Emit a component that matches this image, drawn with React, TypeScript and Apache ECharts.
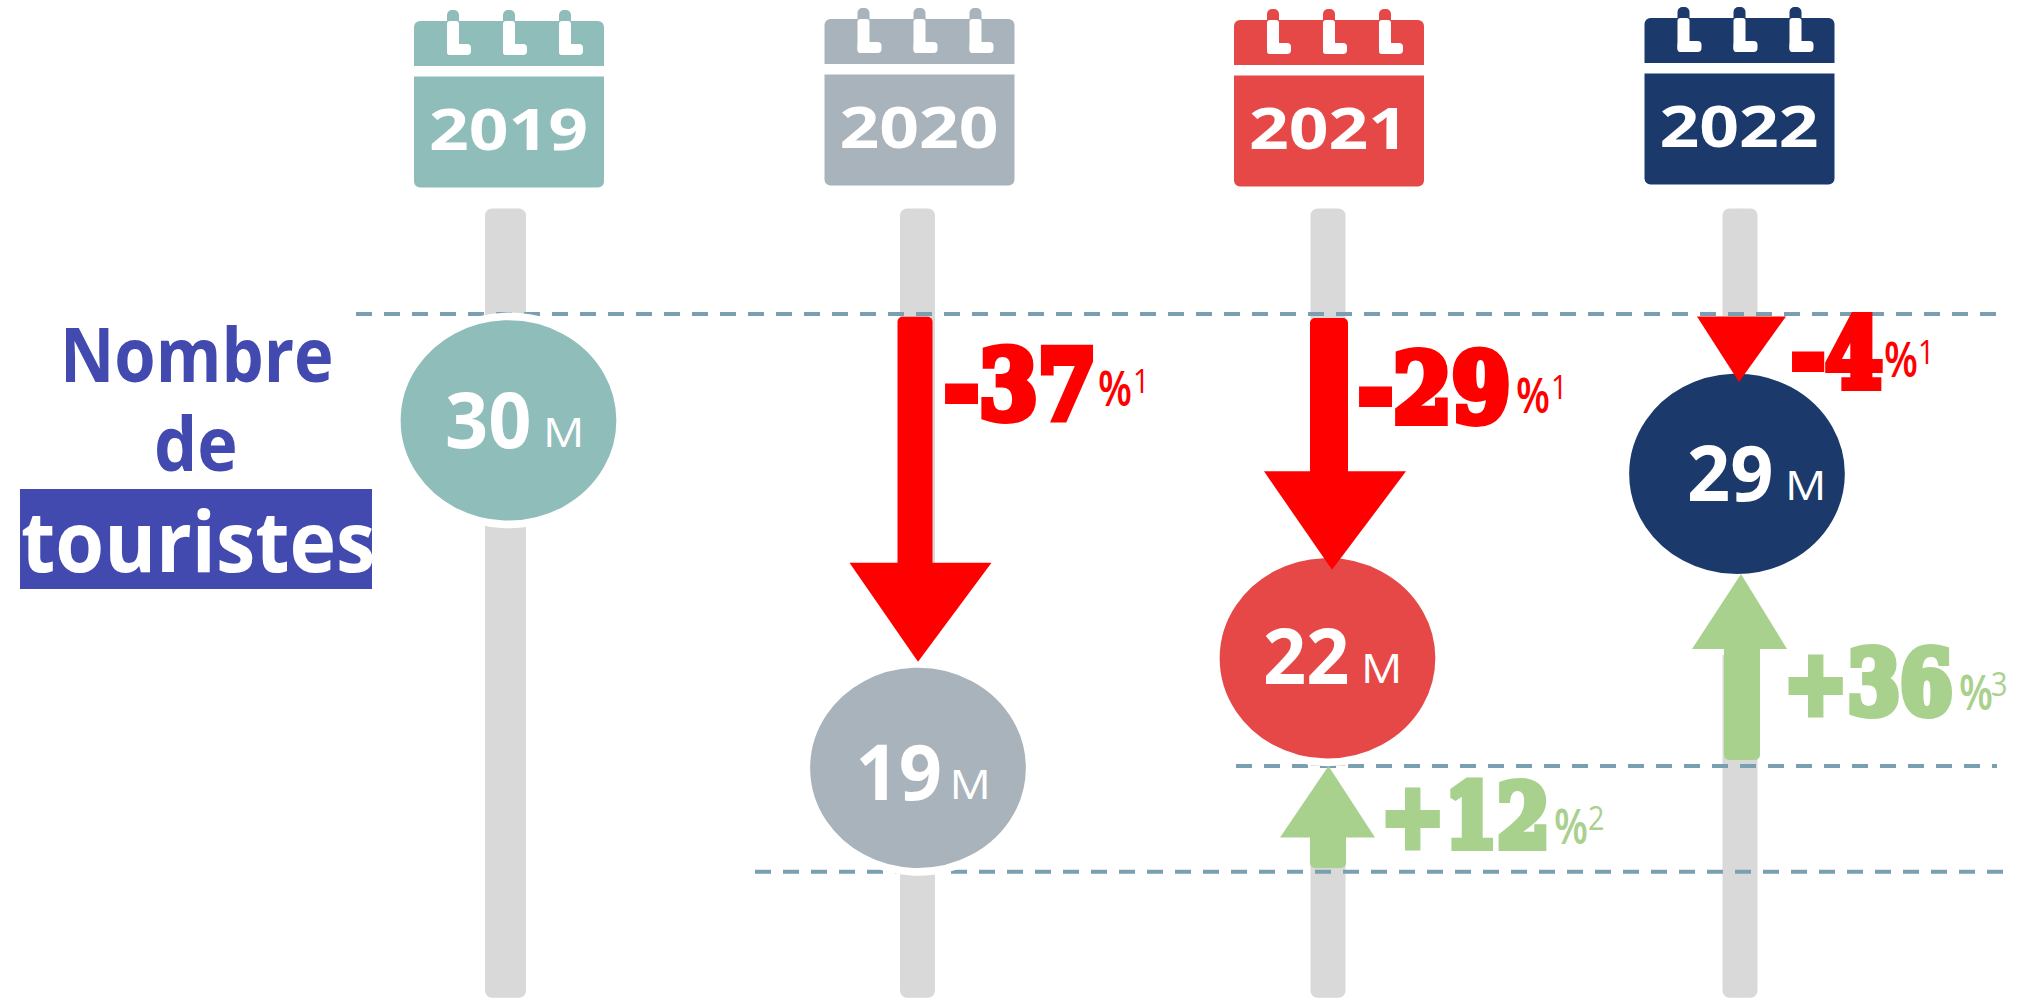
import React, { useEffect, useRef } from "react";
import * as echarts from "echarts";

// ---- data ----
const years = ["2019", "2020", "2021", "2022"];
const touristCounts = [30, 19, 22, 29];
const bubbleLevels = [30, 19, 22.47, 28.31];
const trackRange = [36.71, 11.72];
const guideLevels = [33.37, 19.06, 15.71];

const downYearIndex = [1, 2, 3];
const downChanges = [-37, -29, -4];
const downFromLevels = [33.28, 33.24, 33.29];
const downTipLevels = [22.36, 25.27, 31.22];
const downNotes = ["1", "1", "1"];

const upYearIndex = [2, 3];
const upChanges = [12, 36];
const upFromLevels = [15.83, 19.25];
const upTipLevels = [19.06, 25.14];
const upNotes = ["2", "3"];

const unitLabel = "M";
const titleLines = ["Nombre", "de", "touristes"];

// ---- styles ----
const yearColors = ["#8FBDBA", "#A9B3BB", "#E64848", "#1B3A6B"];
const trackColor = "#D9D9D9";
const guideColor = "#7A9FB0";
const downColor = "#FF0000";
const upColor = "#A9D18E";
const titleColor = "#434AAF";
const sansFont = "'Open Sans', sans-serif";
const fancyFont = "'DejaVu Serif', serif";

// ---- layout ----
const trackDx = [-3, -0.5, 0.5, 3];
const trackW = [41, 35, 35, 35];
const calDx = [0.5, 1.5, 1.5, 2.5];
const calDy = [0, -2, -1, -3];
const countDx = [-63.5, -62.5, -64.5, -50];
const unitDx = [34.5, 31.5, 33.5, 48];
const labelDy = [25.5, 30, 23.5, 25];
const downShape = [
  { shaft: -3, w: 35, head: [-68.5, 73.5], tip: 0, h: 99 },
  { shaft: 1.5, w: 38, head: [-63.5, 78.5], tip: 4.5, h: 98.5 },
  { shaft: 0, w: 0, head: [-40, 49], tip: 2, h: 65.5 },
];
const upShape = [
  { shaft: 0.5, w: 36, head: [-47.5, 47.5], tip: 1, h: 71.5 },
  { shaft: 5, w: 36, head: [-45, 50], tip: 4, h: 75 },
];
const guideSpans = [
  [356, 1996],
  [1236, 1997],
  [755, 2003],
];
const downText = [
  { x: 944, base: 420, sx: 0.88, px: 1098, pb: 405, nx: 1133, nb: 392 },
  { x: 1358, base: 423, sx: 0.88, px: 1516, pb: 412, nx: 1551, nb: 398 },
  { x: 1791, base: 388, sx: 0.86, px: 1884, pb: 376, nx: 1918, nb: 363 },
];
const upText = [
  { x: 1381, base: 848, sx: 0.86, px: 1554, pb: 843, nx: 1588, nb: 829 },
  { x: 1784, base: 715, sx: 0.86, px: 1959, pb: 709, nx: 1991, nb: 695 },
];

// text whose left edge is x and whose baseline is y
function label(
  text: string,
  x: number,
  base: number,
  size: number,
  fill: string,
  opts: any = {}
) {
  return {
    type: "text",
    x,
    y: base - size * 0.36,
    scaleX: opts.sx ?? 1,
    silent: true,
    style: {
      text,
      fontSize: size,
      fontFamily: opts.family ?? sansFont,
      fontWeight: opts.weight ?? 700,
      fill,
      stroke: opts.stroke,
      lineWidth: opts.lineWidth ?? 0,
      lineJoin: "round",
      textAlign: opts.align ?? "left",
      textVerticalAlign: "middle",
    },
  };
}

const customBase = {
  type: "custom",
  coordinateSystem: "cartesian2d",
  silent: true,
  clip: false,
};

function arrow(api: any, idx: number, from: number, tip: number, s: any, fill: string) {
  const [cx, tipY] = api.coord([idx, tip]);
  const [, fromY] = api.coord([idx, from]);
  const dir = tipY > fromY ? 1 : -1;
  const baseY = tipY - dir * s.h;
  const kids: any[] = [];
  if (s.w > 0) {
    // the shaft runs 8px into the head so that only its far end shows rounded corners
    kids.push({
      type: "rect",
      shape: {
        x: cx + s.shaft - s.w / 2,
        y: dir > 0 ? fromY : baseY - 8,
        width: s.w,
        height: Math.abs(baseY - fromY) + 8,
        r: 5,
      },
      style: { fill },
    });
  }
  kids.push({
    type: "polygon",
    shape: {
      points: [
        [cx + s.head[0], baseY],
        [cx + s.head[1], baseY],
        [cx + s.tip, tipY],
      ],
    },
    style: { fill },
  });
  return { type: "group", children: kids };
}

// white gap in the track between an arrow head and the bubble it points at
function headGap(api: any, idx: number, tip: number, s: any) {
  const [cx, tipY] = api.coord([idx, tip]);
  const baseY = tipY - s.dir * s.h;
  const top = Math.min(tipY, baseY);
  return {
    type: "rect",
    shape: { x: cx - 24, y: top, width: 48, height: s.h + 6 },
    style: { fill: "#fff" },
  };
}

function calendar(api: any, idx: number) {
  const [c] = api.coord([idx, 30]);
  const cx = c + calDx[idx];
  const dy = calDy[idx];
  const color = yearColors[idx];
  const kids: any[] = [
    { type: "rect", shape: { x: cx - 95, y: 21 + dy, width: 190, height: 45, r: [6, 6, 0, 0] }, style: { fill: color } },
    { type: "rect", shape: { x: cx - 95, y: 76.5 + dy, width: 190, height: 111, r: [0, 0, 6, 6] }, style: { fill: color } },
  ];
  [-56, 0, 56].forEach((o) => {
    kids.push({ type: "rect", shape: { x: cx + o - 6, y: 10 + dy, width: 12, height: 20, r: 5 }, style: { fill: color } });
    kids.push({ type: "rect", shape: { x: cx + o - 6, y: 21 + dy, width: 12, height: 34, r: 3 }, style: { fill: "#fff" } });
    kids.push({ type: "rect", shape: { x: cx + o - 6, y: 44 + dy, width: 24, height: 11, r: 4 }, style: { fill: "#fff" } });
  });
  kids.push(label(years[idx], cx - 80, 149 + dy, 58, "#fff", { sx: 1.2 }));
  return { type: "group", children: kids };
}

export default function App() {
  const ref = useRef<HTMLDivElement>(null);

  useEffect(() => {
    document.body.style.margin = "0";
    const chart = echarts.init(ref.current!, undefined, { renderer: "svg" });
    chart.setOption({
      animation: false,
      backgroundColor: "#fff",
      grid: { left: 303.75, top: 0, width: 1638, height: 1001 },
      xAxis: { type: "category", data: years, show: false, boundaryGap: true },
      yAxis: { type: "value", min: 11.62, max: 43.31, show: false },
      series: [
        {
          ...customBase,
          name: "tracks",
          z: 1,
          data: years.map((_, i) => [i, trackRange[0], trackRange[1]]),
          renderItem: (_: any, api: any) => {
            const i = api.value(0);
            const [x, top] = api.coord([i, api.value(1)]);
            const [, bottom] = api.coord([i, api.value(2)]);
            return {
              type: "rect",
              shape: { x: x + trackDx[i] - trackW[i] / 2, y: top, width: trackW[i], height: bottom - top, r: 7 },
              style: { fill: trackColor },
            };
          },
        },
        {
          ...customBase,
          name: "gaps",
          z: 1,
          data: [
            ...downYearIndex.map((yi, i) => [yi, downTipLevels[i], 1, downShape[i].h]),
            ...upYearIndex.map((yi, i) => [yi, upTipLevels[i], -1, upShape[i].h]),
          ],
          renderItem: (_: any, api: any) =>
            headGap(api, api.value(0), api.value(1), { dir: api.value(2), h: api.value(3) }),
        },
        {
          ...customBase,
          name: "guides",
          z: 2,
          data: guideLevels.map((v, i) => [0, v, i]),
          renderItem: (_: any, api: any) => {
            const [, y] = api.coord([0, api.value(1)]);
            const span = guideSpans[api.value(2)];
            return {
              type: "line",
              shape: { x1: span[0], y1: y, x2: span[1], y2: y },
              style: { stroke: guideColor, lineWidth: 4, lineDash: [16, 12] },
            };
          },
        },
        {
          type: "scatter",
          name: "tourists",
          z: 3,
          symbol: "circle",
          symbolSize: [224, 208],
          silent: true,
          data: bubbleLevels.map((v, i) => ({
            value: [i, v],
            itemStyle: { color: yearColors[i], opacity: 1, borderColor: "#fff", borderWidth: 8 },
          })),
        },
        {
          ...customBase,
          name: "down",
          z: 4,
          data: downYearIndex.map((yi, i) => [yi, downFromLevels[i], downTipLevels[i], i]),
          renderItem: (_: any, api: any) =>
            arrow(api, api.value(0), api.value(1), api.value(2), downShape[api.value(3)], downColor),
        },
        {
          ...customBase,
          name: "up",
          z: 4,
          data: upYearIndex.map((yi, i) => [yi, upFromLevels[i], upTipLevels[i], i]),
          renderItem: (_: any, api: any) =>
            arrow(api, api.value(0), api.value(1), api.value(2), upShape[api.value(3)], upColor),
        },
        {
          ...customBase,
          name: "calendars",
          z: 5,
          data: years.map((_, i) => [i, 30]),
          renderItem: (_: any, api: any) => calendar(api, api.value(0)),
        },
        {
          ...customBase,
          name: "counts",
          z: 6,
          data: bubbleLevels.map((v, i) => [i, v]),
          renderItem: (_: any, api: any) => {
            const i = api.value(0);
            const [x, y] = api.coord([i, api.value(1)]);
            return {
              type: "group",
              children: [
                label(String(touristCounts[i]), x + countDx[i], y + labelDy[i], 78, "#fff", { sx: 0.97 }),
                label(unitLabel, x + unitDx[i], y + labelDy[i], 40, "#fff", { weight: 400, sx: 1.15 }),
              ],
            };
          },
        },
        {
          ...customBase,
          name: "changes",
          z: 6,
          data: [[0, 30]],
          renderItem: () => {
            const kids: any[] = [];
            const add = (pos: any, text: string, note: string, color: string, size: number) => {
              kids.push(
                label(text, pos.x, pos.base, size, color, {
                  family: fancyFont,
                  weight: 700,
                  sx: pos.sx,
                  stroke: color,
                  lineWidth: 8,
                })
              );
              kids.push(label("%", pos.px, pos.pb, 48, color, { weight: 600, sx: 0.82 }));
              kids.push(label(note, pos.nx, pos.nb, 32, color, { weight: 400, sx: 0.9 }));
            };
            downChanges.forEach((v, i) => add(downText[i], String(v), downNotes[i], downColor, 96));
            upChanges.forEach((v, i) => add(upText[i], "+" + v, upNotes[i], upColor, 88));
            return { type: "group", children: kids };
          },
        },
        {
          ...customBase,
          name: "title",
          z: 6,
          data: [[0, 30]],
          renderItem: () => ({
            type: "group",
            children: [
              { type: "rect", shape: { x: 20, y: 489, width: 352, height: 100 }, style: { fill: titleColor } },
              label(titleLines[0], 60, 380, 76, titleColor, { sx: 0.88 }),
              label(titleLines[1], 154, 469, 76, titleColor, { sx: 0.9 }),
              label(titleLines[2], 21, 569.5, 84, "#fff", { sx: 0.94 }),
            ],
          }),
        },
      ],
    });
    return () => chart.dispose();
  }, []);

  return <div ref={ref} style={{ width: 2023, height: 1001 }} />;
}
